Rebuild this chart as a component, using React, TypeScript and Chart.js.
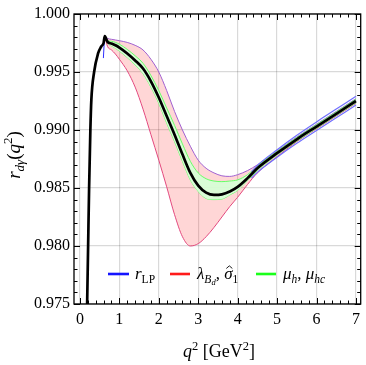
import React, { useEffect, useRef } from 'react';
import { Chart, registerables } from 'chart.js';
Chart.register(...registerables);

const X_MIN = -0.15;
const X_MAX = 7.12;
const Y_MIN = 0.975;
const Y_MAX = 1.0;
const xTickValues = [0, 1, 2, 3, 4, 5, 6, 7];
const yTickValues = [0.975, 0.98, 0.985, 0.99, 0.995, 1.0];

// rising branch of the central curve
const qRise = [0.17, 0.183, 0.208, 0.233, 0.265, 0.29, 0.36, 0.46, 0.54, 0.6];
const centralRise = [0.9725, 0.975, 0.98, 0.985, 0.99, 0.9926, 0.995, 0.9966, 0.9972, 0.9975];

// common q^2 grid for the bands
const qBand = [0.63, 0.7, 0.8, 0.9, 1.0, 1.2, 1.4, 1.6, 1.8, 2.0, 2.2, 2.4, 2.6, 2.8, 3.0, 3.2, 3.4, 3.6, 3.8, 4.0, 4.25, 4.5, 5.0, 5.5, 6.0, 6.5, 7.0];
const central = [0.9981, 0.9976, 0.99745, 0.9973, 0.9971, 0.9966, 0.996, 0.9953, 0.9942, 0.9928, 0.9912, 0.9896, 0.9879, 0.9863, 0.9852, 0.9846, 0.9844, 0.98445, 0.9847, 0.9851, 0.98585, 0.9867, 0.988, 0.9892, 0.9903, 0.9914, 0.9925];
const redUpper = [0.9981, 0.9979, 0.99782, 0.99776, 0.9977, 0.99755, 0.9973, 0.9969, 0.9961, 0.995, 0.9934, 0.9916, 0.99, 0.9886, 0.9874, 0.9867, 0.9863, 0.98605, 0.986, 0.98615, 0.9865, 0.987, 0.9882, 0.9894, 0.9905, 0.9916, 0.9927];
const redLower = [0.9981, 0.9972, 0.9969, 0.99655, 0.9961, 0.9951, 0.9937, 0.9918, 0.9896, 0.9874, 0.9851, 0.9827, 0.9808, 0.98, 0.9802, 0.9808, 0.9816, 0.9825, 0.9834, 0.9842, 0.9853, 0.9863, 0.9877, 0.989, 0.9901, 0.9912, 0.9923];
const greenUpper = [0.9981, 0.9977, 0.99765, 0.99755, 0.9974, 0.99695, 0.9964, 0.99575, 0.9947, 0.9934, 0.9919, 0.9904, 0.9888, 0.9873, 0.9863, 0.9858, 0.9856, 0.98555, 0.9856, 0.9857, 0.98615, 0.9869, 0.98815, 0.98935, 0.99045, 0.99155, 0.99265];
const greenLower = [0.9981, 0.9975, 0.99725, 0.99705, 0.9968, 0.99625, 0.9956, 0.99485, 0.9937, 0.9923, 0.9906, 0.989, 0.9873, 0.9857, 0.9847, 0.9841, 0.984, 0.98405, 0.9844, 0.9848, 0.98565, 0.9865, 0.98785, 0.98905, 0.99015, 0.99125, 0.99235];

// r_LP band (visible only at large q^2) and the spike at the peak
const qBlue = [4.35, 4.5, 5.0, 5.5, 6.0, 6.5, 7.0];
const blueUpper = [0.9864, 0.98695, 0.9883, 0.98955, 0.9907, 0.9918, 0.9929];
const blueLower = [0.98585, 0.98635, 0.98765, 0.98885, 0.98995, 0.99105, 0.99215];
const qSpike = [0.595, 0.625];
const blueSpike = [0.9962, 0.9981];

const FONT = '"Liberation Serif", "DejaVu Serif", serif';

const pts = (xs: number[], ys: number[]) => xs.map((x, i) => ({ x, y: ys[i] }));

type Run = { t: string; it?: boolean; s: number; dy?: number; hat?: boolean };

function runsWidth(ctx: CanvasRenderingContext2D, runs: Run[]) {
  let w = 0;
  for (const r of runs) {
    ctx.font = `${r.it ? 'italic ' : ''}${r.s}px ${FONT}`;
    w += ctx.measureText(r.t).width;
  }
  return w;
}

function drawRuns(ctx: CanvasRenderingContext2D, x: number, y: number, runs: Run[]) {
  let cx = x;
  for (const r of runs) {
    ctx.font = `${r.it ? 'italic ' : ''}${r.s}px ${FONT}`;
    const w = ctx.measureText(r.t).width;
    ctx.fillText(r.t, cx, y + (r.dy || 0));
    if (r.hat) {
      const mx = cx + w / 2 + 1;
      const top = y + (r.dy || 0) - r.s * 0.62;
      ctx.save();
      ctx.strokeStyle = '#000';
      ctx.lineWidth = 0.9;
      ctx.beginPath();
      ctx.moveTo(mx - 3, top);
      ctx.lineTo(mx, top - 2.6);
      ctx.lineTo(mx + 3, top);
      ctx.stroke();
      ctx.restore();
    }
    cx += w;
  }
}

const decor = {
  id: 'decor',
  afterDraw(chart: any) {
    const { ctx, chartArea: a, scales } = chart;
    const xs = scales.x;
    const ys = scales.y;
    ctx.save();
    ctx.strokeStyle = '#000';
    ctx.lineWidth = 1;
    ctx.beginPath();
    for (let k = 0; k <= 35; k++) {
      const v = k * 0.2;
      const px = Math.round(xs.getPixelForValue(v)) + 0.5;
      const len = k % 5 === 0 ? 6 : 3.5;
      ctx.moveTo(px, a.bottom);
      ctx.lineTo(px, a.bottom - len);
      ctx.moveTo(px, a.top);
      ctx.lineTo(px, a.top + len);
    }
    for (let k = 0; k <= 25; k++) {
      const v = Y_MIN + k * 0.001;
      const py = Math.round(ys.getPixelForValue(v)) + 0.5;
      const len = k % 5 === 0 ? 6 : 3.5;
      ctx.moveTo(a.left, py);
      ctx.lineTo(a.left + len, py);
      ctx.moveTo(a.right, py);
      ctx.lineTo(a.right - len, py);
    }
    ctx.stroke();
    ctx.lineWidth = 1.3;
    ctx.strokeRect(a.left, a.top, a.right - a.left, a.bottom - a.top);

    // legend
    const ly = 274;
    const items: { c: string; x0: number; x1: number; tx: number; runs: Run[] }[] = [
      { c: '#1414ff', x0: 108, x1: 129, tx: 135, runs: [{ t: 'r', it: true, s: 17 }, { t: 'LP', s: 11.5, dy: 3.5 }] },
      { c: '#ff1a1a', x0: 170, x1: 190, tx: 197, runs: [{ t: 'λ', it: true, s: 17 }, { t: 'B', it: true, s: 11.5, dy: 3.5 }, { t: 'd', it: true, s: 8.5, dy: 6 }, { t: ', ', s: 17 }, { t: 'σ', it: true, s: 17, hat: true }, { t: '1', s: 11.5, dy: 3.5 }] },
      { c: '#1aff1a', x0: 256, x1: 276, tx: 283, runs: [{ t: 'μ', it: true, s: 17 }, { t: 'h', it: true, s: 11.5, dy: 3.5 }, { t: ', ', s: 17 }, { t: 'μ', it: true, s: 17 }, { t: 'hc', it: true, s: 11.5, dy: 3.5 }] },
    ];
    for (const it of items) {
      ctx.strokeStyle = it.c;
      ctx.lineWidth = 2.6;
      ctx.beginPath();
      ctx.moveTo(it.x0, ly);
      ctx.lineTo(it.x1, ly);
      ctx.stroke();
      ctx.fillStyle = '#000';
      ctx.textBaseline = 'alphabetic';
      ctx.textAlign = 'left';
      drawRuns(ctx, it.tx, ly + 5, it.runs);
    }

    // x title
    const xt: Run[] = [{ t: 'q', it: true, s: 18 }, { t: '2', s: 12.5, dy: -7 }, { t: ' [GeV', s: 18 }, { t: '2', s: 12.5, dy: -7 }, { t: ']', s: 18 }];
    const xw = runsWidth(ctx, xt);
    drawRuns(ctx, 219 - xw / 2, 357, xt);

    // y title
    const yt: Run[] = [{ t: 'r', it: true, s: 19 }, { t: 'dγ', it: true, s: 13, dy: 4 }, { t: '(', s: 19 }, { t: 'q', it: true, s: 19 }, { t: '2', s: 13, dy: -8 }, { t: ')', s: 19 }];
    const yw = runsWidth(ctx, yt);
    ctx.save();
    ctx.translate(20, 155);
    ctx.rotate(-Math.PI / 2);
    drawRuns(ctx, -yw / 2, 0, yt);
    ctx.restore();
    ctx.restore();
  },
};

export default function App() {
  const ref = useRef<HTMLCanvasElement>(null);
  useEffect(() => {
    if (!ref.current) return;
    const common = { pointRadius: 0, cubicInterpolationMode: 'monotone' as const, fill: false };
    const chart = new Chart(ref.current, {
      type: 'line',
      data: {
        datasets: [
          { ...common, label: 'central', data: pts([...qRise, ...qBand], [...centralRise, ...central]), borderColor: '#000', borderWidth: 2.7, order: 0 },
          { ...common, label: 'spike', data: pts(qSpike, blueSpike), borderColor: '#3030ff', borderWidth: 1, order: 1 },
          { ...common, label: 'blueUp', data: pts(qBlue, blueUpper), borderColor: '#7070ff', borderWidth: 1.2, order: 1 },
          { ...common, label: 'blueLo', data: pts(qBlue, blueLower), borderColor: '#7070ff', borderWidth: 1.2, order: 1 },
          { ...common, label: 'greenUp', data: pts(qBand, greenUpper), borderColor: '#66ff66', borderWidth: 1, fill: '+1', backgroundColor: 'rgba(214,255,214,0.92)', order: 2 },
          { ...common, label: 'greenLo', data: pts(qBand, greenLower), borderColor: '#66ff66', borderWidth: 1, order: 2 },
          { ...common, label: 'redUp', data: pts(qBand, redUpper), borderColor: '#a060d0', borderWidth: 1, fill: '+1', backgroundColor: 'rgba(255,0,0,0.16)', order: 3 },
          { ...common, label: 'redLo', data: pts(qBand, redLower), borderColor: '#e0508a', borderWidth: 1, order: 3 },
        ],
      },
      options: {
        animation: false,
        responsive: false,
        layout: { padding: { top: 14, right: 2, left: 0, bottom: 0 } },
        plugins: { legend: { display: false }, tooltip: { enabled: false } },
        scales: {
          x: {
            type: 'linear',
            min: X_MIN,
            max: X_MAX,
            afterBuildTicks: (s: any) => { s.ticks = xTickValues.map((v) => ({ value: v })); },
            afterFit: (s: any) => { s.height = 61; },
            grid: { color: 'rgba(0,0,0,0.15)', lineWidth: 1.2, drawTicks: false },
            border: { display: false },
            ticks: { color: '#000', font: { family: FONT, size: 16 }, padding: 6, maxRotation: 0, callback: (v: any) => String(v) },
          },
          y: {
            type: 'linear',
            min: Y_MIN,
            max: Y_MAX,
            afterBuildTicks: (s: any) => { s.ticks = yTickValues.map((v) => ({ value: v })); },
            afterFit: (s: any) => { s.width = 74; },
            grid: { color: 'rgba(0,0,0,0.15)', lineWidth: 1.2, drawTicks: false },
            border: { display: false },
            ticks: { color: '#000', font: { family: FONT, size: 16 }, padding: 4, callback: (v: any) => Number(v).toFixed(3) },
          },
        },
      },
      plugins: [decor],
    });
    return () => chart.destroy();
  }, []);
  return (
    <div style={{ position: 'fixed', left: 0, top: 0, width: 366, height: 365, background: '#fff' }}>
      <canvas ref={ref} width={366} height={365} style={{ display: 'block' }} />
    </div>
  );
}
